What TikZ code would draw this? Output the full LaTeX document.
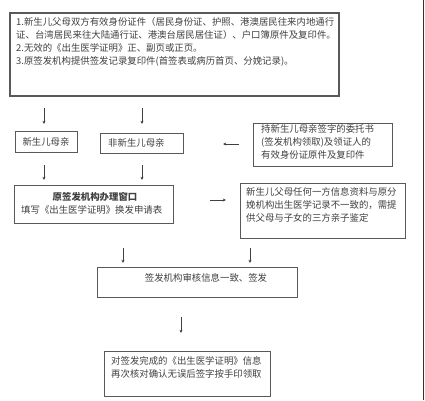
\documentclass[tikz,border=0pt]{standalone}
\usepackage{fontspec}
\setmainfont{Noto Sans CJK SC}
\usetikzlibrary{arrows.meta}
\tikzset{
  box/.style={draw=black!65, line width=0.9pt, fill=white},
  txt/.style={inner sep=0pt, text=black!75, font=\fontsize{9.4}{13}\selectfont, align=left},
  arr/.style={draw=black!75, line width=0.7pt, -{Stealth[length=3.2pt,width=3pt]}}
}
\begin{document}
\begin{tikzpicture}[x=1pt,y=-1pt]
\useasboundingbox (0,0) rectangle (425,400);
% right edge line
\draw[black!80, line width=1pt] (423,0) -- (423,400);

% boxes
\draw[box, line width=1.1pt] (10,13) rectangle (339,96);
\draw[box] (15,131) rectangle (77,152);
\draw[box] (100,133) rectangle (183,153);
\draw[box] (253,123) rectangle (392,166);
\draw[box] (14,185) rectangle (173,223);
\draw[box] (240,183) rectangle (405,238);
\draw[box] (97,267) rectangle (297,297);
\draw[box] (104,351) rectangle (270,396);

% texts
\node[txt, anchor=north west] (t1) at (16,17.5) {1.新生儿父母双方有效身份证件（居民身份证、护照、港澳居民往来内地通行\\证、台湾居民来往大陆通行证、港澳台居民居住证）、户口簿原件及复印件。\\2.无效的《出生医学证明》正、副页或正页。\\3.原签发机构提供签发记录复印件(首签表或病历首页、分娩记录)。};
\node[txt] (t2) at (46,141.5) {新生儿母亲};
\node[txt, anchor=west] (t3) at (108,143) {非新生儿母亲};
\node[txt, anchor=north west] (t4) at (261,124.5) {持新生儿母亲签字的委托书\\(签发机构领取)及领证人的\\有效身份证原件及复印件};
\node[txt, font=\fontsize{9.4}{13}\selectfont\bfseries] (t5) at (95,197) {原签发机构办理窗口};
\node[txt, anchor=west] (t6) at (21,210) {填写《出生医学证明》换发申请表};
\node[txt, anchor=north west] (t7) at (246,187.5) {新生儿父母任何一方信息资料与原分\\娩机构出生医学记录不一致的，需提\\供父母与子女的三方亲子鉴定};
\node[txt] (t8) at (206,278) {签发机构审核信息一致、签发};
\node[txt, anchor=north west] (t9) at (111,356.5) {对签发完成的《出生医学证明》信息\\再次核对确认无误后签字按手印领取};

% arrow coordinates
\coordinate (a1s) at (44,108);  \coordinate (a1e) at (44,124);
\coordinate (a2s) at (142,108); \coordinate (a2e) at (142,124);
\coordinate (a3s) at (44,165);  \coordinate (a3e) at (44,180);
\coordinate (a4s) at (142,165); \coordinate (a4e) at (142,180);
\coordinate (a5s) at (239,144); \coordinate (a5e) at (223,144);
\coordinate (a6s) at (210,200); \coordinate (a6e) at (226,200);
\coordinate (a7s) at (123,248); \coordinate (a7e) at (123,263);
\coordinate (a8s) at (250,248); \coordinate (a8e) at (250,263);
\coordinate (a9s) at (181,317); \coordinate (a9e) at (181,333);

\draw[arr] (a1s) -- (a1e);
\draw[arr] (a2s) -- (a2e);
\draw[arr] (a3s) -- (a3e);
\draw[arr] (a4s) -- (a4e);
\draw[arr] (a5s) -- (a5e);
\draw[arr] (a6s) -- (a6e);
\draw[arr] (a7s) -- (a7e);
\draw[arr] (a8s) -- (a8e);
\draw[arr] (a9s) -- (a9e);
\end{tikzpicture}
\end{document}
